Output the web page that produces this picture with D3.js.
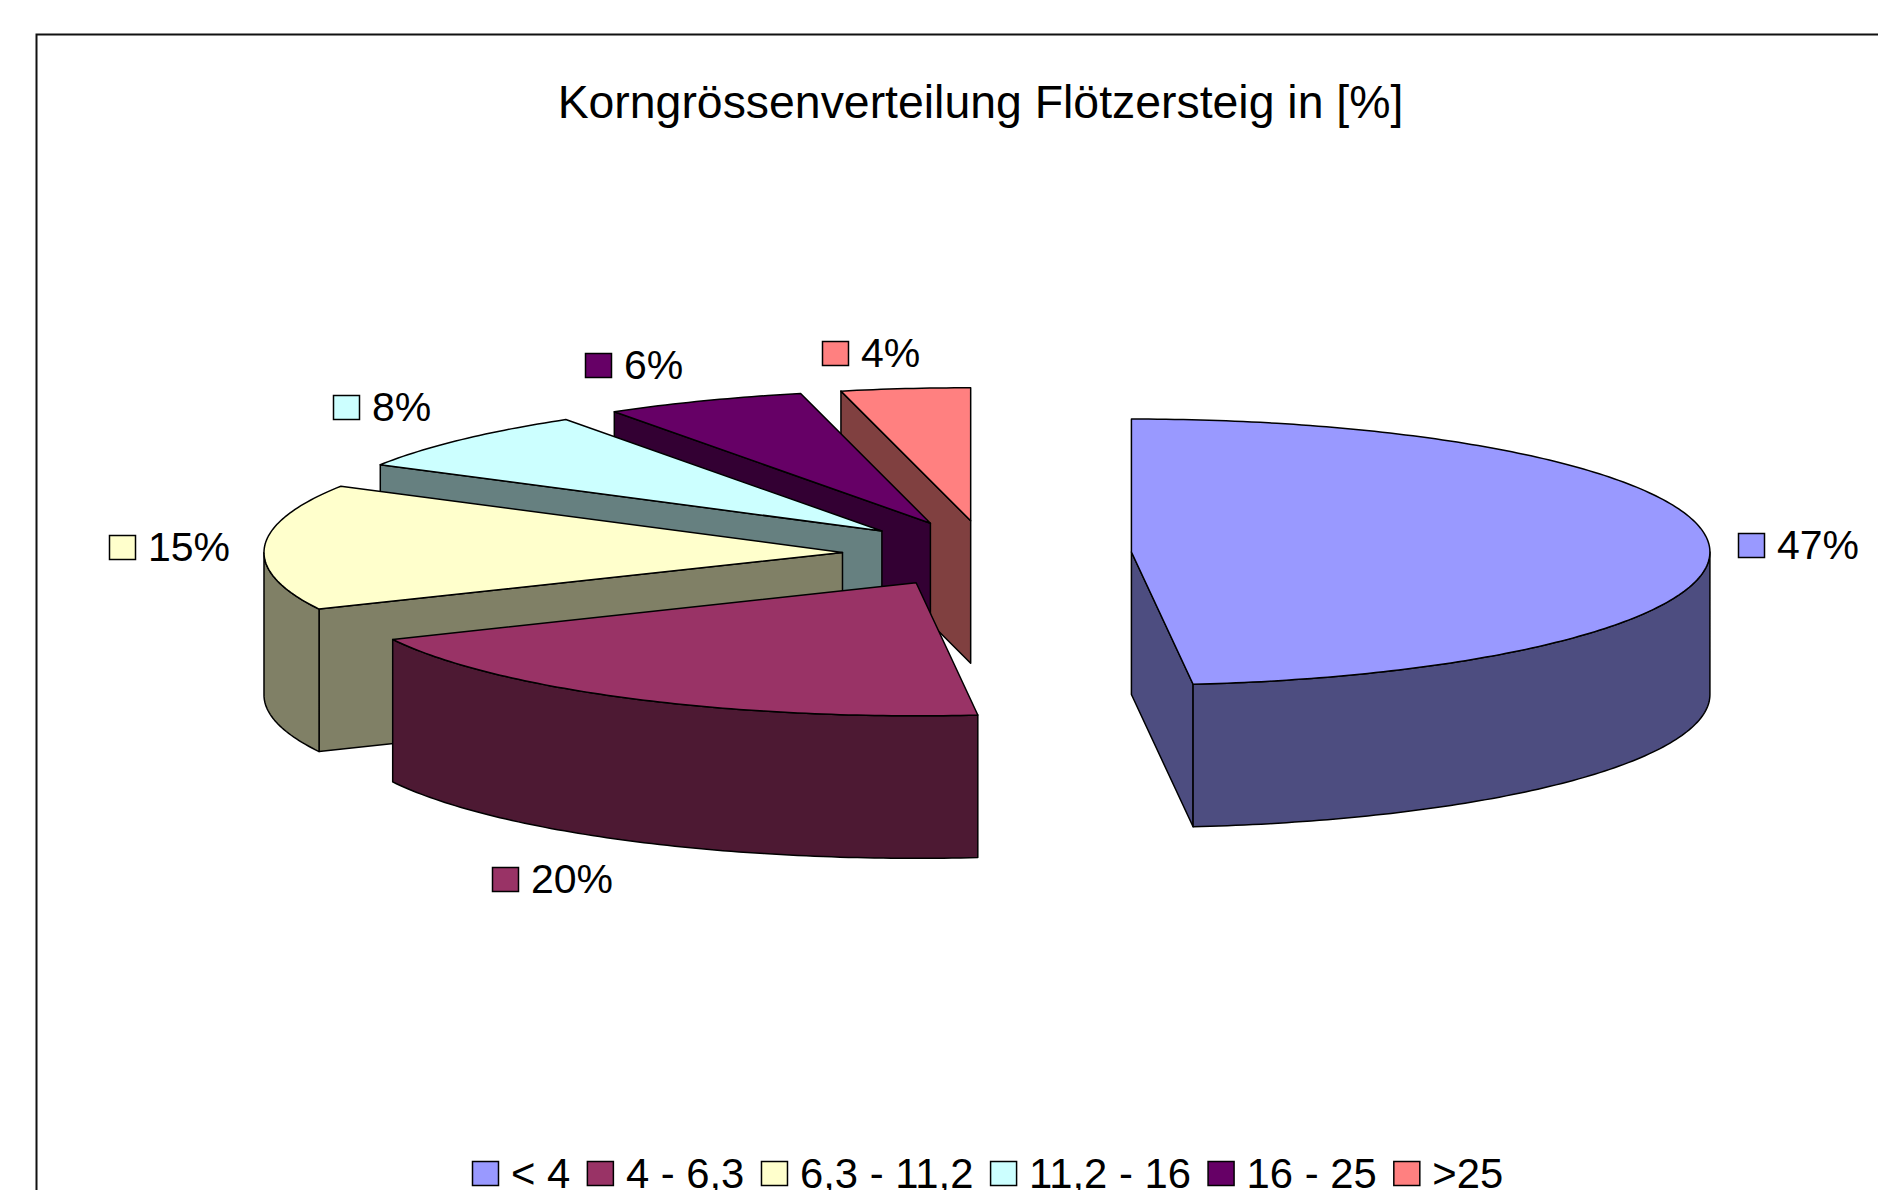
<!DOCTYPE html>
<html>
<head>
<meta charset="utf-8">
<style>html,body{margin:0;padding:0;background:#fff;overflow:hidden}svg{display:block}text{font-family:"Liberation Sans",Arial,sans-serif;fill:#000}</style>
<script src="https://cdn.jsdelivr.net/npm/d3@7/dist/d3.min.js"></script>
</head>
<body>
<script>
const chartTitle = "Korngrössenverteilung Flötzersteig in [%]";
const categories = ["< 4", "4 - 6,3", "6,3 - 11,2", "11,2 - 16", "16 - 25", ">25"];
const printedPercent = [47, 20, 15, 8, 6, 4];
const sectorShare = [48.3, 19.7, 15.3, 7.5, 5.6, 3.6];
const colors = ["#9999FF", "#993366", "#FFFFCC", "#CCFFFF", "#660066", "#FF8080"];
const sideColors = ["#4D4D80", "#4D1933", "#808066", "#668080", "#330033", "#804040"];

// Layout
const W = 1878, H = 1190;
const cx = 987, cy = 553.8, rx = 578.5, ry = 133, depth = 142.5, explode = 0.25;
const labelLayout = [
  {x: 1738, base: 558}, {x: 492, base: 892}, {x: 109, base: 560},
  {x: 333, base: 420}, {x: 585, base: 378}, {x: 822, base: 366}
];
const swatchW = 27, swatchH = 24, swatchGap = 12, labelFont = 41, legendFont = 41.8;
const legendX = 472, legendSwatchBase = 1186, legendTextBase = 1188, legendItemGap = 16.6;

const svg = d3.select("body").append("svg").attr("width", W).attr("height", H);
svg.append("rect").attr("width", W).attr("height", H).attr("fill", "#fff");
svg.append("path").attr("d", `M36.5,${H + 5}V34.5H${W + 5}`).attr("fill", "none").attr("stroke", "#111").attr("stroke-width", 2);

svg.append("text").attr("x", 980.5).attr("y", 118).attr("text-anchor", "middle")
  .attr("font-size", 46.4).text(chartTitle);

const sx = d3.scaleLinear().domain([-1, 1]).range([cx - rx, cx + rx]);
const sy = d3.scaleLinear().domain([-1, 1]).range([cy + ry, cy - ry]);
const arcs = d3.pie().sort(null).value(d => d)(sectorShare);

function rimPoints(a0, a1, ox, oy, dz) {
  const n = Math.max(2, Math.ceil((a1 - a0) / 0.015));
  return d3.range(n + 1).map(i => {
    const a = a0 + (a1 - a0) * i / n;
    return [sx(Math.sin(a) + ox), sy(Math.cos(a) + oy) + dz];
  });
}
const line = d3.line();
const g = svg.append("g").attr("stroke", "#000").attr("stroke-width", 1.5).attr("stroke-linejoin", "round");

// painter's order: back slices first, the large first slice last
arcs.map((d, i) => ({d, i})).reverse().forEach(({d, i}) => {
  const mid = (d.startAngle + d.endAngle) / 2;
  const ox = explode * Math.sin(mid), oy = explode * Math.cos(mid);
  const apex = [sx(ox), sy(oy)];
  [[d.startAngle, -Math.PI / 2], [d.endAngle, Math.PI / 2]].forEach(([a, turn]) => {
    if (Math.cos(a + turn) < -1e-6) {
      const rim = [sx(Math.sin(a) + ox), sy(Math.cos(a) + oy)];
      g.append("path").attr("fill", sideColors[i]).attr("d", line([
        apex, rim, [rim[0], rim[1] + depth], [apex[0], apex[1] + depth]
      ]) + "Z");
    }
  });
  const w0 = Math.max(d.startAngle, Math.PI / 2), w1 = Math.min(d.endAngle, 3 * Math.PI / 2);
  if (w1 > w0) {
    const pts = rimPoints(w0, w1, ox, oy, 0).concat(rimPoints(w0, w1, ox, oy, depth).reverse());
    g.append("path").attr("fill", sideColors[i]).attr("d", line(pts) + "Z");
  }
  g.append("path").attr("fill", colors[i])
    .attr("d", line([apex].concat(rimPoints(d.startAngle, d.endAngle, ox, oy, 0))) + "Z");
});

function swatch(x, base, color) {
  svg.append("rect").attr("x", x + 0.5).attr("y", base - swatchH - 0.5)
    .attr("width", swatchW - 1).attr("height", swatchH)
    .attr("fill", color).attr("stroke", "#000").attr("stroke-width", 1.5);
}

labelLayout.forEach((p, i) => {
  swatch(p.x, p.base, colors[i]);
  svg.append("text").attr("x", p.x + swatchW + swatchGap).attr("y", p.base + 1)
    .attr("font-size", labelFont).text(printedPercent[i] + "%");
});

let lx = legendX;
categories.forEach((c, i) => {
  swatch(lx, legendSwatchBase, colors[i]);
  const t = svg.append("text").attr("x", lx + swatchW + swatchGap).attr("y", legendTextBase)
    .attr("font-size", legendFont).style("white-space", "pre").text(c);
  lx += swatchW + swatchGap + t.node().getComputedTextLength() + legendItemGap;
});
</script>
</body>
</html>
